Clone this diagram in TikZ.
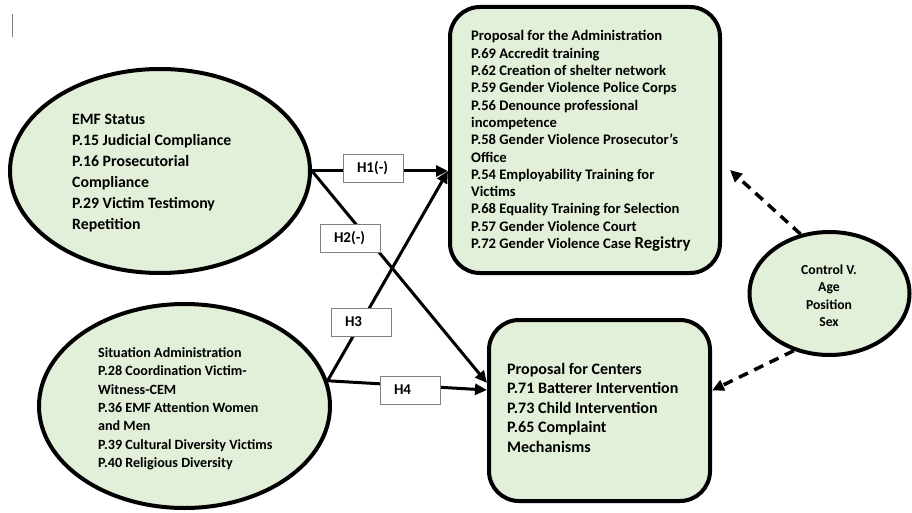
\documentclass[tikz,border=0pt]{standalone}
\usepackage{fontspec}
\setmainfont{Carlito}
\usetikzlibrary{arrows.meta,shapes.geometric}
\definecolor{pale}{HTML}{E2EFD9}
\tikzset{
  ell/.style={ellipse, draw=black, line width=4pt, fill=pale, inner sep=0pt},
  rbox/.style={rectangle, rounded corners=30pt, draw=black, line width=4pt, fill=pale, inner sep=0pt},
  txt/.style={anchor=north west, inner sep=0pt, align=left},
  conn/.style={line width=3pt, -{Triangle[length=12pt,width=11pt]}},
  ctl/.style={line width=3.5pt, dash pattern=on 10pt off 7pt, -{Triangle[length=12pt,width=11pt]}},
  lbl/.style={draw=gray, fill=white, line width=0.8pt, minimum width=60pt, minimum height=28pt,
    inner sep=0pt, text width=60pt, align=left, font=\fontsize{15}{15}\selectfont\bfseries}
}
\begin{document}
\begin{tikzpicture}[x=1pt,y=-1pt]
\useasboundingbox (0,0) rectangle (912,513);
\draw[gray, line width=1pt] (12,14) coordinate (c1) -- (12,37) coordinate (c2);
% shapes
\node[ell, minimum width=300pt, minimum height=204pt] (emf) at (160,171) {};
\node[ell, minimum width=291pt, minimum height=204pt] (sit) at (184.5,406) {};
\node[rbox, minimum width=270pt, minimum height=266pt] (adm) at (585,140) {};
\node[rbox, minimum width=221pt, minimum height=181pt] (cen) at (599.5,410.5) {};
\node[ell, minimum width=160pt, minimum height=123pt] (ctrl) at (829.5,293.5) {};
% texts
\node[txt, font=\fontsize{15.8}{21}\selectfont\bfseries] (emftext) at (72,114) {EMF Status\\P.15 Judicial Compliance\\P.16 Prosecutorial\\Compliance\\P.29 Victim Testimony\\Repetition};
\node[txt, font=\fontsize{14.6}{17.3}\selectfont\bfseries] (admtext) at (471,30.5) {Proposal for the Administration\\P.69 Accredit training\\P.62 Creation of shelter network\\P.59 Gender Violence Police Corps\\P.56 Denounce professional\\incompetence\\P.58 Gender Violence Prosecutor's\\Office\\P.54 Employability Training for\\Victims\\P.68 Equality Training for Selection\\P.57 Gender Violence Court\\P.72 Gender Violence Case {\fontsize{16.8}{17.3}\selectfont Registry}};
\node[txt, font=\fontsize{14.1}{18.3}\selectfont\bfseries] (sittext) at (98,347.5) {Situation Administration\\P.28 Coordination Victim-\\Witness-CEM\\P.36 EMF Attention Women\\and Men\\P.39 Cultural Diversity Victims\\P.40 Religious Diversity};
\node[txt, font=\fontsize{16}{19.5}\selectfont\bfseries] (centext) at (507,363) {Proposal for Centers\\P.71 Batterer Intervention\\P.73 Child Intervention\\P.65 Complaint\\Mechanisms};
\node[anchor=north, inner sep=0pt, align=center, font=\fontsize{13.7}{17.5}\selectfont\bfseries] (ctrltext) at (829,264.4) {Control V.\\Age\\Position\\Sex};
% connectors
\draw[conn] (emf.east) -- ([yshift=-31pt]adm.west);
\draw[conn] (emf.east) -- ([yshift=27.5pt]cen.west);
\draw[conn] (sit.10) -- ([yshift=-31pt]adm.west);
\draw[conn] (sit.10) -- ([yshift=20.5pt]cen.west);
\coordinate (ctrltip) at (730,170);
\draw[ctl] (ctrl.116) -- (ctrltip);
\draw[ctl] (ctrl.238) -- ([yshift=20pt]cen.east);
% labels
\node[lbl] (h1) at (373,168) {\hspace*{14pt}H1(-)};
\node[lbl] (h2) at (350,238) {\hspace*{14pt}H2(-)};
\node[lbl] (h3) at (361,322) {\hspace*{14pt}H3};
\node[lbl] (h4) at (410,390) {\hspace*{14pt}H4};
\end{tikzpicture}
\end{document}
